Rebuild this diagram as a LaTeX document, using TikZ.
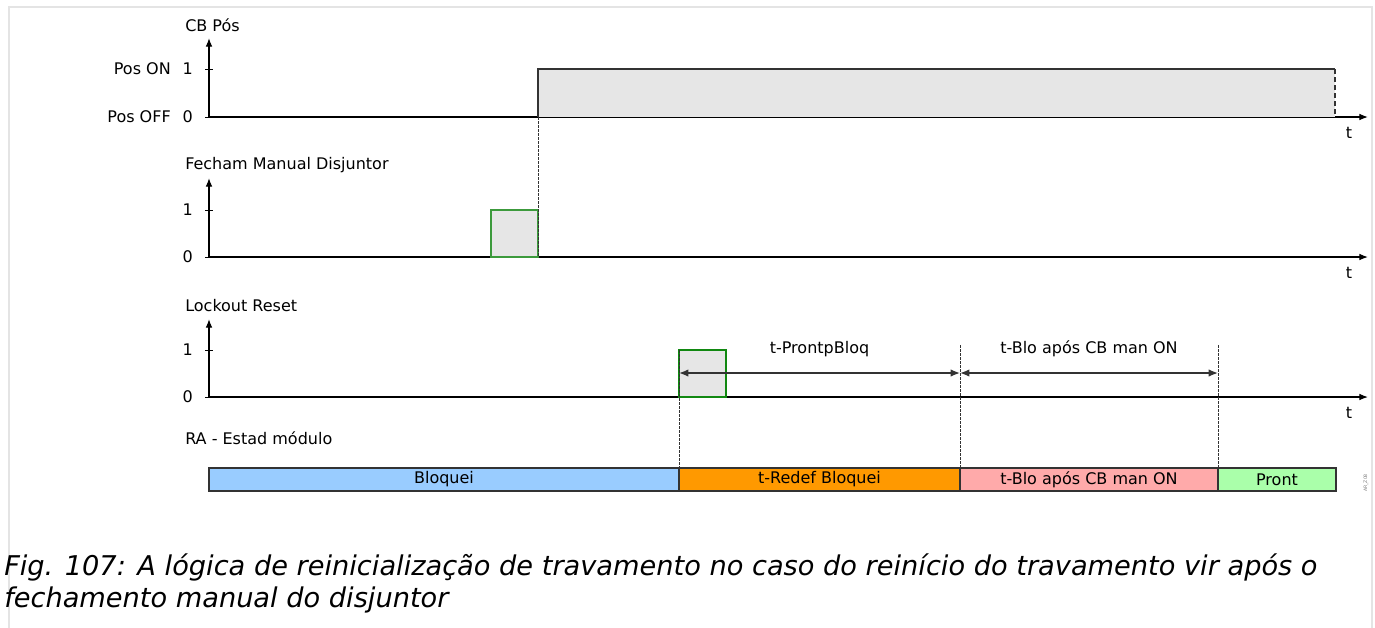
\documentclass[tikz,border=0pt]{standalone}
\usepackage{fontspec}
\setmainfont{DejaVu Sans}
\usetikzlibrary{arrows.meta,positioning,calc}
\definecolor{sigfill}{HTML}{E6E6E6}
\definecolor{sigline}{HTML}{333333}
\definecolor{pulsegreen}{HTML}{3C9A3C}
\definecolor{pulsedark}{HTML}{118811}
\definecolor{stblue}{HTML}{99CCFF}
\definecolor{storange}{HTML}{FF9900}
\definecolor{stpink}{HTML}{FFAAAA}
\definecolor{stgreen}{HTML}{AAFFAA}
\definecolor{framegray}{HTML}{E4E4E4}

\begin{document}
\begin{tikzpicture}[x=0.75pt,y=-0.75pt,
  lbl/.style={font=\fontsize{12}{14}\selectfont, inner sep=0pt},
  axis/.style={-{Latex[length=6.5pt,width=5pt]}, line width=0.9pt},
  tick/.style={line width=0.7pt},
  sig/.style={draw=sigline, line width=1pt},
  pulse/.style={fill=sigfill, line width=1pt},
  guide/.style={draw=sigline, line width=0.6pt, dash pattern=on 2pt off 1pt},
  dim/.style={{Latex[length=7pt,width=5.5pt]}-{Latex[length=7pt,width=5.5pt]}, line width=1pt, draw=sigline},
  state/.style={draw=sigline, line width=0.8pt},
  caption/.style={anchor=base west, inner sep=0pt, font=\itshape\fontsize{20.4}{24}\selectfont}
]
\useasboundingbox[fill=white] (0,0) rectangle (1375,628);
\draw[framegray, line width=1.5pt] (9,628) -- (9,7) -- (1372,7) -- (1372,628);

% axes: y of level 0, y of level 1, y of arrow tip, title
\foreach \name/\yz/\yo/\ytop/\ttl in {cb/117/69/38/CB Pós, man/257/210/178/Fecham Manual Disjuntor, rst/397/350/319/Lockout Reset}{
  \coordinate (\name-o) at (209,\yz);
  \coordinate (\name-y) at (209,\ytop);
  \coordinate (\name-x) at (1368,\yz);
  \draw[axis] (\name-o) -- (\name-y);
  \draw[axis] (\name-o) -- (\name-x);
  \draw[tick] (205,\yo) -- (213,\yo);
  \draw[tick] (205,\yz) -- (213,\yz);
  \node[lbl, anchor=west] (\name-title) at (185,\ytop-13) {\ttl};
  \node[lbl, anchor=east] (\name-one) at (193,\yo) {1};
  \node[lbl, anchor=east] (\name-zero) at (193,\yz) {0};
  \node[lbl] (\name-t) at (1349,\yz+16) {t};
}
\node[lbl, anchor=east] (pos-on) at (171,69) {Pos ON};
\node[lbl, anchor=east] (pos-off) at (171,117) {Pos OFF};

% CB position
\fill[sigfill] (538,117) rectangle (1335,69);
\draw[sig] (538,117) -- (538,69) -- (1335,69);
\draw[sig, dash pattern=on 4pt off 2pt] (1335,69) -- (1335,117);

% manual close pulse
\filldraw[pulse, draw=pulsegreen] (491,257) rectangle (538,210);
\draw[guide] (538,117) -- (538,257);

% lockout reset pulse
\filldraw[pulse, draw=pulsedark] (679,397) rectangle (726,350);

% state bar
\draw[state, fill=stblue] (209,468) rectangle node[lbl] (bloq) {Bloquei} (679,491);
\draw[state, fill=storange] (679,468) rectangle node[lbl] (redef) {t-Redef Bloquei} (960,491);
\draw[state, fill=stpink] (960,468) rectangle node[lbl] (blo) {t-Blo após CB man ON} (1218,491);
\draw[state, fill=stgreen] (1218,468) rectangle node[lbl] (pront) {Pront} (1336,491);
\node[lbl, anchor=west] (ra-title) at (185,438) {RA - Estad módulo};

% timing guides and spans
\coordinate (span-a) at (679,373);
\coordinate (span-b) at (960,373);
\coordinate (span-c) at (1218,373);
\draw[guide] (679,350) -- (679,468);
\draw[guide] (960,345) -- (960,468);
\draw[guide] (1218,345) -- (1218,468);
\draw[dim] (span-a) -- node[lbl, above=12pt] (prontp) {t-ProntpBloq} (span-b);
\draw[dim] (span-b) -- node[lbl, above=12pt] (blo-span) {t-Blo após CB man ON} (span-c);

\node[rotate=90, font=\fontsize{3.5}{4}\selectfont, text=gray, inner sep=0pt] (tag) at (1366,483) {AR\_Z08};

% caption
\node[caption] (cap-a) at (4,575) {Fig. 107: A lógica de reinicialização de travamento no caso do reinício do travamento vir após o};
\node[caption] (cap-b) at (4,607) {fechamento manual do disjuntor};
\end{tikzpicture}
\end{document}
